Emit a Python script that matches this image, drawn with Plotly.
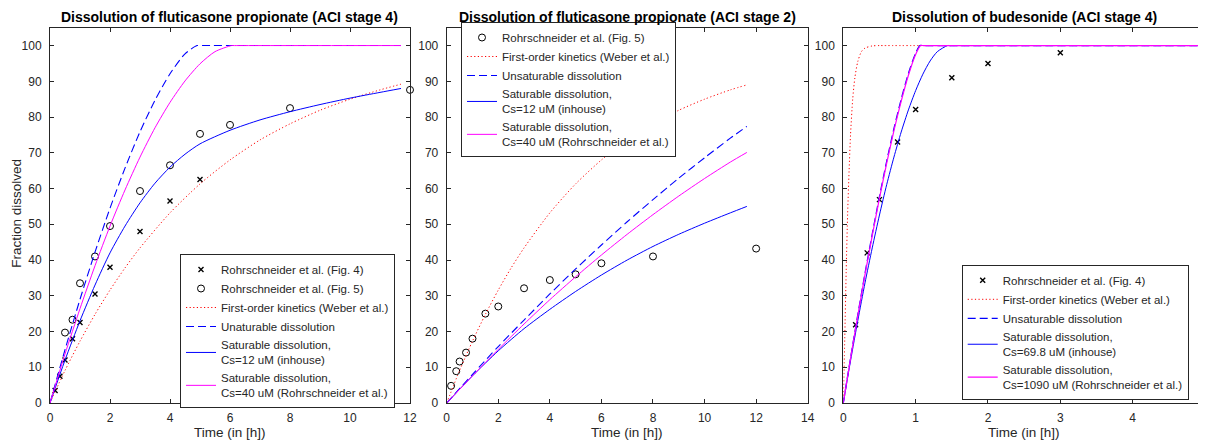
import plotly.graph_objects as go

# panel 1: fluticasone propionate, ACI stage 4
fp4_fig4_t = [0.17, 0.33, 0.5, 0.75, 1, 1.5, 2, 3, 4, 5]
fp4_fig4_y = [3.5, 7.5, 12, 18, 22.5, 30.5, 38, 48, 56.5, 62.5]
fp4_fig5_t = [0.5, 0.75, 1, 1.5, 2, 3, 4, 5, 6, 8, 12]
fp4_fig5_y = [19.7, 23.3, 33.5, 41, 49.5, 59.3, 66.5, 75.3, 77.8, 82.5, 87.6]
fp4_first_t = [0, 0.5, 1, 1.5, 2, 2.5, 3, 4, 5, 6, 7, 8, 9, 10, 11, 11.7]
fp4_first_y = [0, 9.1, 17.3, 24.8, 31.6, 37.8, 43.4, 53.2, 61.3, 68.0, 73.6, 78.1, 81.9, 85.0, 87.6, 89.2]
fp4_unsat_t = [0, 0.5, 1, 1.5, 2, 2.5, 3, 3.5, 4, 4.5, 4.9, 5.0, 11.7]
fp4_unsat_y = [0, 14.9, 29.0, 42.2, 54.5, 65.7, 75.9, 84.7, 92.1, 97.7, 100, 100, 100]
fp4_sat12_t = [0, 0.5, 1, 1.5, 2, 2.5, 3, 3.5, 4, 4.5, 5, 6, 7, 8, 9, 10, 11, 11.7]
fp4_sat12_y = [0, 12, 23, 33, 42, 49.5, 56, 61.5, 66, 69.6, 72.5, 76.3, 79.2, 81.5, 83.5, 85.3, 86.9, 88]
fp4_sat40_t = [0, 0.5, 1, 1.5, 2, 2.5, 3, 3.5, 4, 4.5, 5, 5.5, 6.05, 6.15, 11.7]
fp4_sat40_y = [0, 13.7, 26.4, 38.4, 49.5, 59.6, 68.8, 77.0, 84.1, 90.1, 94.9, 98.3, 100, 100, 100]

# panel 2: fluticasone propionate, ACI stage 2
fp2_fig5_t = [0.17, 0.37, 0.5, 0.75, 1, 1.5, 2, 3, 4, 5, 6, 8, 12]
fp2_fig5_y = [4.8, 8.9, 11.6, 14.1, 18.0, 25.0, 27.0, 32.1, 34.4, 36.0, 39.1, 41.0, 43.2]
fp2_first_t = [0, 0.5, 1, 1.5, 2, 2.5, 3, 4, 5, 6, 7, 8, 9, 10, 11, 11.64]
fp2_first_y = [0, 9.1, 17.3, 24.8, 31.6, 37.8, 43.4, 53.2, 61.3, 68.0, 73.6, 78.1, 81.9, 85.0, 87.6, 89.0]
fp2_t = [0, 1, 2, 3, 4, 5, 6, 7, 8, 9, 10, 11, 11.64]
fp2_unsat_y = [0, 8.0, 15.8, 23.2, 30.5, 37.5, 44.2, 50.7, 56.9, 62.9, 68.6, 74.1, 77.4]
fp2_sat12_y = [0, 7.6, 14.6, 20.8, 26.2, 31.2, 35.8, 40.0, 43.8, 47.2, 50.3, 53.2, 55.0]
fp2_sat40_y = [0, 7.6, 15.0, 22.1, 28.9, 35.3, 41.4, 47.2, 52.7, 57.9, 62.8, 67.4, 70.1]

# panel 3: budesonide, ACI stage 4
bud_fig4_t = [0.17, 0.33, 0.5, 0.75, 1, 1.5, 2, 3]
bud_fig4_y = [21.9, 42.0, 56.9, 73.0, 82.1, 91.0, 95.0, 98.0]
bud_first_t = [0, 0.02, 0.04, 0.06, 0.08, 0.1, 0.13, 0.16, 0.2, 0.25, 0.3, 0.4, 0.5, 0.55, 5]
bud_first_y = [0, 18, 37, 53, 65, 75, 85, 91, 95.5, 98.3, 99.3, 99.9, 100, 100, 100]
bud_unsat_t = [0, 0.1, 0.2, 0.3, 0.4, 0.5, 0.6, 0.7, 0.8, 0.9, 1.0, 1.06, 1.1, 5]
bud_unsat_y = [0, 12.6, 24.7, 36.3, 47.3, 57.8, 67.7, 76.8, 85.0, 92.2, 97.9, 100, 100, 100]
bud_sat698_t = [0, 0.1, 0.2, 0.3, 0.4, 0.5, 0.6, 0.7, 0.8, 0.9, 1.0, 1.1, 1.2, 1.3, 1.44, 1.48, 5]
bud_sat698_y = [0, 11.8, 23.0, 33.6, 43.4, 52.6, 61.1, 68.8, 75.8, 82.0, 87.4, 92.0, 95.7, 98.3, 100, 100, 100]
bud_sat1090_t = [0, 0.1, 0.2, 0.3, 0.4, 0.5, 0.6, 0.7, 0.8, 0.9, 1.0, 1.07, 1.11, 5]
bud_sat1090_y = [0, 12.4, 24.4, 35.9, 46.8, 57.3, 67.1, 76.2, 84.4, 91.7, 97.5, 100, 100, 100]

titles = ["Dissolution of fluticasone propionate (ACI stage 4)",
          "Dissolution of fluticasone propionate (ACI stage 2)",
          "Dissolution of budesonide (ACI stage 4)"]

FONT = "Liberation Sans, Arial, Helvetica, sans-serif"
INK = "#262626"
# the page puts the plot 8px in from the top-left corner (body margin)
OFF = 8
W, H = 1206 - OFF, 440 - OFF
px_x = [(50, 410), (446.7, 807.7), (843.3, 1205)]
top, bot = 27.7, 403


def fx(px):
    return (px - OFF) / W


def fy(py):
    return 1 - (py - OFF) / H


def ref(k):
    s = "" if k == 1 else str(k)
    return dict(xaxis="x" + s, yaxis="y" + s, legend="legend" + s)


def cross(t, y, name, k):
    return go.Scatter(x=t, y=y, name=name, mode="markers", cliponaxis=False,
                      marker=dict(symbol="x-thin", size=5, line=dict(width=1.4, color="black")),
                      **ref(k))


def circ(t, y, name, k):
    return go.Scatter(x=t, y=y, name=name, mode="markers", cliponaxis=False,
                      marker=dict(symbol="circle-open", size=7, color="black", line=dict(width=1)),
                      **ref(k))


def curve(t, y, name, k, color, dash="solid", width=1):
    return go.Scatter(x=t, y=y, name=name, mode="lines",
                      line=dict(color=color, dash=dash, width=width, shape="spline", smoothing=0.7),
                      **ref(k))


DOT = "1.2px,2.4px"
DASH = "8px,4px"
traces = [
    cross(fp4_fig4_t, fp4_fig4_y, "Rohrschneider et al. (Fig. 4)", 1),
    circ(fp4_fig5_t, fp4_fig5_y, "Rohrschneider et al. (Fig. 5)", 1),
    curve(fp4_first_t, fp4_first_y, "First-order kinetics (Weber et al.)", 1, "#ff0000", DOT),
    curve(fp4_unsat_t, fp4_unsat_y, "Unaturable dissolution", 1, "#0000ff", DASH, 1.1),
    curve(fp4_sat12_t, fp4_sat12_y, "Saturable dissolution,<br>Cs=12 uM (inhouse)", 1, "#0000ff"),
    curve(fp4_sat40_t, fp4_sat40_y, "Saturable dissolution,<br>Cs=40 uM (Rohrschneider et al.)", 1, "#ff00ff"),

    circ(fp2_fig5_t, fp2_fig5_y, "Rohrschneider et al. (Fig. 5)", 2),
    curve(fp2_first_t, fp2_first_y, "First-order kinetics (Weber et al.)", 2, "#ff0000", DOT),
    curve(fp2_t, fp2_unsat_y, "Unsaturable dissolution", 2, "#0000ff", DASH, 1.1),
    curve(fp2_t, fp2_sat12_y, "Saturable dissolution,<br>Cs=12 uM (inhouse)", 2, "#0000ff"),
    curve(fp2_t, fp2_sat40_y, "Saturable dissolution,<br>Cs=40 uM (Rohrschneider et al.)", 2, "#ff00ff"),

    cross(bud_fig4_t, bud_fig4_y, "Rohrschneider et al. (Fig. 4)", 3),
    curve(bud_first_t, bud_first_y, "First-order kinetics (Weber et al.)", 3, "#ff0000", DOT),
    curve(bud_unsat_t, bud_unsat_y, "Unsaturable dissolution", 3, "#0000ff", DASH, 1.2),
    curve(bud_sat698_t, bud_sat698_y, "Saturable dissolution,<br>Cs=69.8 uM (inhouse)", 3, "#0000ff"),
    curve(bud_sat1090_t, bud_sat1090_y, "Saturable dissolution,<br>Cs=1090 uM (Rohrschneider et al.)", 3, "#ff00ff", width=1.2),
]

fig = go.Figure(data=traces)

axis = dict(showline=True, linecolor=INK, linewidth=1, mirror="ticks", ticks="inside",
            ticklen=4, tickcolor=INK, tickwidth=1, showgrid=False, zeroline=False,
            automargin=False, tickfont=dict(family=FONT, size=12, color=INK))
ydom = [fy(bot), fy(top)]
xranges = [[0, 12], [0, 14], [0, 5]]
xdtick = [2, 2, 1]
legpos = [(180, 331), (461, 89.5), (961.7, 332.3)]
annotations = []
for i in range(3):
    sfx = "" if i == 0 else str(i + 1)
    xd = [fx(px_x[i][0]), fx(px_x[i][1])]
    fig.layout["xaxis" + sfx] = dict(axis, domain=xd, range=xranges[i], dtick=xdtick[i],
                                     anchor="y" + sfx, ticklabelstandoff=4,
                                     ticklabeloverflow="allow")
    fig.layout["yaxis" + sfx] = dict(axis, domain=ydom, range=[0, 105], dtick=10,
                                     anchor="x" + sfx, ticklabelstandoff=5)
    fig.layout["legend" + sfx] = dict(x=fx(legpos[i][0]), y=fy(legpos[i][1]),
                                      xanchor="left", yanchor="middle", bgcolor="white",
                                      bordercolor=INK, borderwidth=1,
                                      font=dict(family=FONT, size=11.5, color=INK),
                                      itemwidth=30, tracegroupgap=0)
    xc = (xd[0] + xd[1]) / 2
    annotations.append(dict(text="<b>" + titles[i] + "</b>", x=xc, y=fy(17.5),
                            xref="paper", yref="paper", showarrow=False,
                            xanchor="center", yanchor="middle",
                            font=dict(family=FONT, size=14, color="black")))
    annotations.append(dict(text="Time (in [h])", x=xc, y=fy(432),
                            xref="paper", yref="paper", showarrow=False,
                            xanchor="center", yanchor="middle",
                            font=dict(family=FONT, size=13.5, color=INK)))
annotations.append(dict(text="Fraction dissolved", x=fx(16.7), y=fy(213),
                        xref="paper", yref="paper", showarrow=False, textangle=-90,
                        xanchor="center", yanchor="middle",
                        font=dict(family=FONT, size=13.5, color=INK)))

fig.update_layout(width=W, height=H, margin=dict(l=0, r=0, t=0, b=0),
                  paper_bgcolor="white", plot_bgcolor="white",
                  annotations=annotations, showlegend=True)

fig.write_html("out.html")
